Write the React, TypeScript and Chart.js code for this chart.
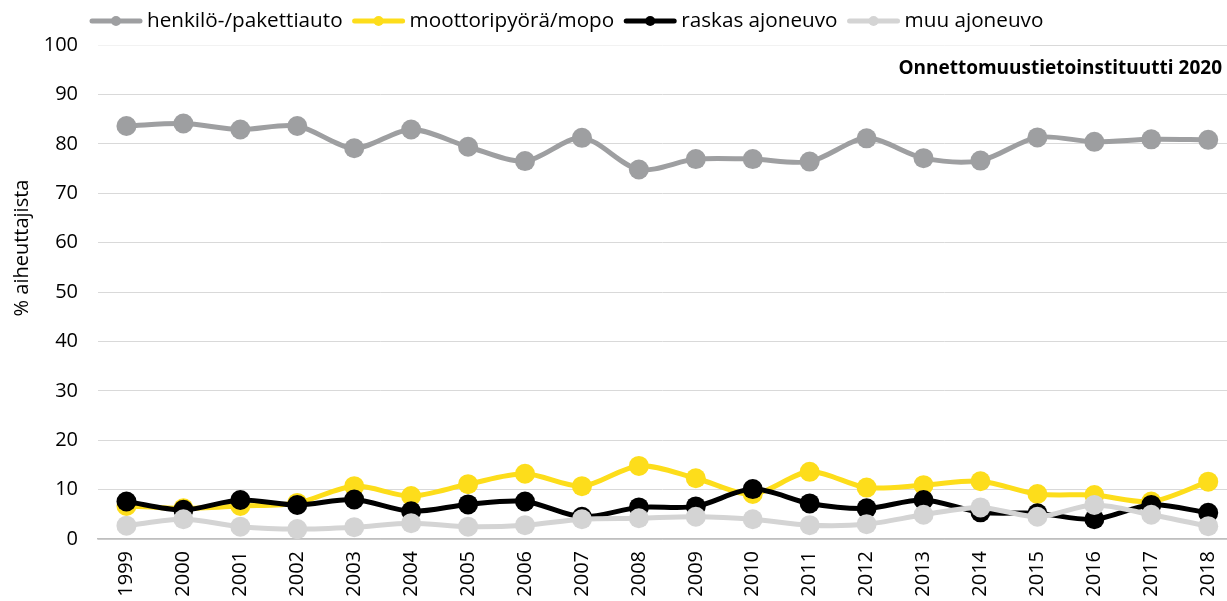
import React, { useEffect, useRef } from "react";
import { Chart, registerables } from "chart.js";

Chart.register(...registerables);

const years = [1999, 2000, 2001, 2002, 2003, 2004, 2005, 2006, 2007, 2008, 2009, 2010, 2011, 2012, 2013, 2014, 2015, 2016, 2017, 2018];
const seriesNames = ["henkilö-/pakettiauto", "moottoripyörä/mopo", "raskas ajoneuvo", "muu ajoneuvo"];
const henkiloPaketti = [83.6, 84.1, 82.9, 83.6, 79.1, 82.9, 79.4, 76.5, 81.2, 74.8, 76.9, 76.9, 76.4, 81.1, 77.1, 76.6, 81.3, 80.4, 80.9, 80.8];
const moottoripyora = [6.7, 6.2, 6.7, 7.3, 10.7, 8.7, 11.1, 13.2, 10.7, 14.8, 12.3, 9.1, 13.6, 10.4, 10.9, 11.7, 9.1, 8.9, 7.6, 11.6];
const raskas = [7.6, 5.9, 7.9, 6.9, 8.0, 5.6, 7.0, 7.6, 4.5, 6.4, 6.6, 10.1, 7.2, 6.2, 7.9, 5.4, 5.2, 4.0, 6.9, 5.3];
const muu = [2.7, 4.0, 2.5, 2.0, 2.4, 3.2, 2.5, 2.8, 4.0, 4.2, 4.5, 4.0, 2.8, 3.0, 4.9, 6.4, 4.5, 6.9, 4.9, 2.6];
const yTickValues = [0, 10, 20, 30, 40, 50, 60, 70, 80, 90, 100];
const yAxisTitle = "% aiheuttajista";
const sourceNote = "Onnettomuustietoinstituutti 2020";

const seriesValues = [henkiloPaketti, moottoripyora, raskas, muu];
const seriesColors = ["#9e9fa1", "#fddd1b", "#000000", "#d4d4d4"];
const FONT = '"Open Sans", "Noto Sans", sans-serif';

const decorPlugin = {
  id: "decor",
  beforeDatasetsDraw(chart: any) {
    const ctx = chart.ctx;
    ctx.save();
    ctx.fillStyle = "rgba(255,255,255,0.65)";
    ctx.fillRect(85, 43, 1030 - 85, 4);
    ctx.restore();
  },
  afterDraw(chart: any) {
    const ctx = chart.ctx;
    ctx.save();
    // legend
    ctx.font = `20.7px ${FONT}`;
    ctx.textBaseline = "middle";
    ctx.textAlign = "left";
    let x = 90;
    const y = 21;
    seriesNames.forEach((name, i) => {
      ctx.strokeStyle = seriesColors[i];
      ctx.fillStyle = seriesColors[i];
      ctx.lineWidth = 5;
      ctx.lineCap = "round";
      ctx.beginPath();
      ctx.moveTo(x + 2, y);
      ctx.lineTo(x + 50, y);
      ctx.stroke();
      ctx.beginPath();
      ctx.arc(x + 26, y, 5, 0, Math.PI * 2);
      ctx.fill();
      ctx.fillStyle = "#000";
      ctx.fillText(name, x + 57, y);
      x += 57 + ctx.measureText(name).width + 10;
    });
    // source note
    ctx.font = `bold 19px ${FONT}`;
    ctx.textAlign = "right";
    ctx.fillStyle = "#000";
    ctx.fillText(sourceNote, 1222, 69);
    // y axis title
    ctx.font = `20px ${FONT}`;
    ctx.translate(22, 248);
    ctx.rotate(-Math.PI / 2);
    ctx.textAlign = "center";
    ctx.fillText(yAxisTitle, 0, 0);
    ctx.restore();
  },
};

export default function App() {
  const ref = useRef<HTMLCanvasElement | null>(null);
  useEffect(() => {
    if (!ref.current) return;
    const chart = new Chart(ref.current, {
      type: "line",
      data: {
        datasets: seriesNames.map((name, i) => ({
          label: name,
          data: years.map((yr, j) => ({ x: yr, y: seriesValues[i][j] })),
          borderColor: seriesColors[i],
          backgroundColor: seriesColors[i],
          pointBackgroundColor: seriesColors[i],
          pointBorderColor: seriesColors[i],
          borderWidth: 5,
          pointRadius: 10,
          pointBorderWidth: 0,
          tension: 0.3,
          order: 4 - i,
        })),
      },
      options: {
        responsive: false,
        animation: false,
        layout: { autoPadding: false, padding: { top: 45, left: 0, right: 0, bottom: 0 } },
        plugins: {
          legend: { display: false },
          tooltip: { enabled: false },
        },
        scales: {
          x: {
            type: "linear",
            min: 1998.5,
            max: 2018.33,
            afterBuildTicks: (scale: any) => {
              scale.ticks = years.map((v) => ({ value: v }));
            },
            afterFit: (scale: any) => {
              scale.height = 62;
              scale.paddingLeft = 0;
              scale.paddingRight = 0;
            },
            grid: { display: false, drawTicks: false },
            border: { display: true, color: "#bfbfbf", width: 1.5 },
            ticks: {
              autoSkip: false,
              maxRotation: 90,
              minRotation: 90,
              padding: 12,
              color: "#000",
              font: { family: FONT, size: 20 },
              callback: (v: any) => String(v),
            },
          },
          y: {
            min: 0,
            max: 100,
            afterBuildTicks: (scale: any) => {
              scale.ticks = yTickValues.map((v) => ({ value: v }));
            },
            afterFit: (scale: any) => {
              scale.width = 98;
              scale.paddingTop = 0;
              scale.paddingBottom = 0;
            },
            grid: { color: "#d9d9d9", lineWidth: 1, drawTicks: false },
            border: { display: false },
            ticks: {
              padding: 20,
              color: "#000",
              font: { family: FONT, size: 20 },
              callback: (v: any) => String(v),
            },
          },
        },
      },
      plugins: [decorPlugin],
    });
    return () => chart.destroy();
  }, []);
  return (
    <div style={{ position: "fixed", left: 0, top: 0, width: 1227, height: 601, background: "#fff" }}>
      <canvas ref={ref} width={1227} height={601} style={{ width: 1227, height: 601, display: "block" }} />
    </div>
  );
}
